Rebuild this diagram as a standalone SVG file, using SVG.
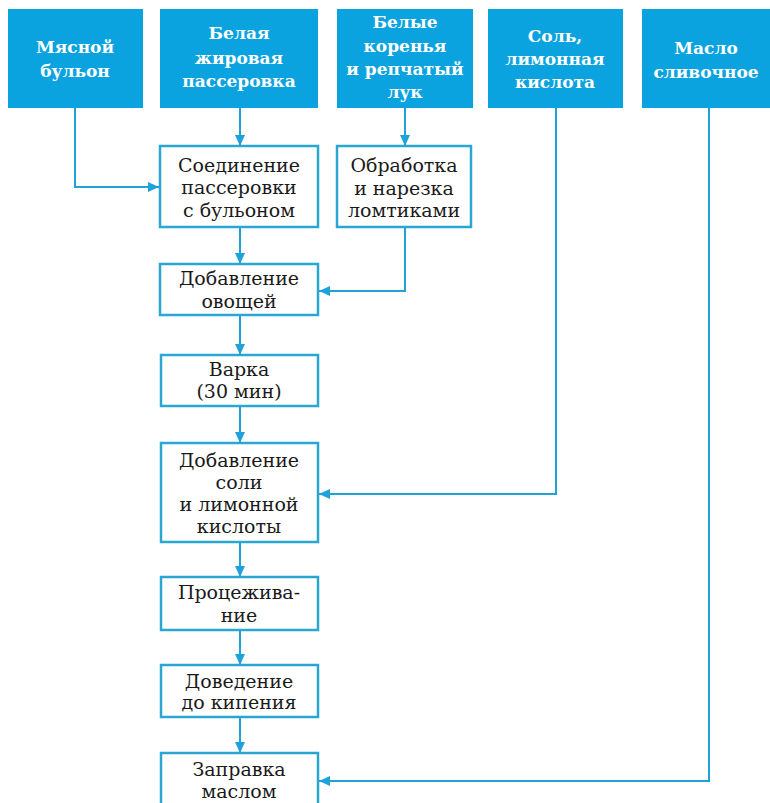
<svg xmlns="http://www.w3.org/2000/svg" width="770" height="803" viewBox="0 0 770 803">
<style>
.hdr{fill:#0ba3df}
.ht{font-family:"DejaVu Serif","Liberation Serif",serif;font-weight:bold;font-size:17px;fill:#ffffff;text-anchor:middle}
.box{fill:#ffffff;stroke:#2aa6d3;stroke-width:2.5}
.bt{font-family:"DejaVu Serif","Liberation Serif",serif;font-size:19px;fill:#1a1a1a;text-anchor:middle}
.con{fill:none;stroke:#1ea2d9;stroke-width:2;marker-end:url(#ah)}
</style>
<defs>
<marker id="ah" markerUnits="userSpaceOnUse" markerWidth="12" markerHeight="10" refX="11" refY="5" orient="auto">
<path d="M0,0 L11,5 L0,10 Z" fill="#1ea2d9"/>
</marker>
</defs>
<rect width="770" height="803" fill="#ffffff"/>
<g id="connectors">
<path class="con" d="M75,108 V187 H159"/>
<path class="con" d="M240,108 V146"/>
<path class="con" d="M405,108 V146"/>
<path class="con" d="M240,227 V264"/>
<path class="con" d="M405,227 V291 H319"/>
<path class="con" d="M240,315 V355"/>
<path class="con" d="M240,406 V443"/>
<path class="con" d="M556,108 V494 H319"/>
<path class="con" d="M240,542 V577"/>
<path class="con" d="M240,630 V665"/>
<path class="con" d="M240,717 V753"/>
<path class="con" d="M709,108 V781 H319"/>
</g>
<g id="n_myasnoy">
<rect class="hdr" x="8" y="9" width="135" height="99"/>
<text class="ht" x="75" y="53">Мясной</text>
<text class="ht" x="75" y="77">бульон</text>
</g>
<g id="n_belaya">
<rect class="hdr" x="160" y="9" width="158" height="99"/>
<text class="ht" x="239" y="39">Белая</text>
<text class="ht" x="239" y="64">жировая</text>
<text class="ht" x="239" y="87">пассеровка</text>
</g>
<g id="n_belye">
<rect class="hdr" x="337" y="9" width="136" height="99"/>
<text class="ht" x="405" y="28">Белые</text>
<text class="ht" x="405" y="52">коренья</text>
<text class="ht" x="405" y="75">и репчатый</text>
<text class="ht" x="405" y="98">лук</text>
</g>
<g id="n_sol">
<rect class="hdr" x="488" y="9" width="135" height="99"/>
<text class="ht" x="555" y="42">Соль,</text>
<text class="ht" x="555" y="65">лимонная</text>
<text class="ht" x="555" y="88">кислота</text>
</g>
<g id="n_maslo">
<rect class="hdr" x="642" y="9" width="135" height="99"/>
<text class="ht" x="706" y="54">Масло</text>
<text class="ht" x="706" y="78">сливочное</text>
</g>
<g id="n_soedinenie">
<rect class="box" x="160" y="146" width="158" height="81"/>
<text class="bt" x="239" y="172">Соединение</text>
<text class="bt" x="239" y="194">пассеровки</text>
<text class="bt" x="239" y="217">с бульоном</text>
</g>
<g id="n_obrabotka">
<rect class="box" x="337" y="146" width="134" height="81"/>
<text class="bt" x="404" y="172">Обработка</text>
<text class="bt" x="404" y="195">и нарезка</text>
<text class="bt" x="404" y="217">ломтиками</text>
</g>
<g id="n_ovoshchi">
<rect class="box" x="160" y="264" width="158" height="51"/>
<text class="bt" x="239" y="285">Добавление</text>
<text class="bt" x="239" y="308">овощей</text>
</g>
<g id="n_varka">
<rect class="box" x="161" y="355" width="157" height="51"/>
<text class="bt" x="239" y="376">Варка</text>
<text class="bt" x="239" y="398">(30 мин)</text>
</g>
<g id="n_sol_add">
<rect class="box" x="161" y="443" width="157" height="99"/>
<text class="bt" x="239" y="467">Добавление</text>
<text class="bt" x="239" y="489">соли</text>
<text class="bt" x="239" y="511">и лимонной</text>
<text class="bt" x="239" y="533">кислоты</text>
</g>
<g id="n_protsezh">
<rect class="box" x="161" y="577" width="157" height="53"/>
<text class="bt" x="239" y="599">Процежива-</text>
<text class="bt" x="239" y="622">ние</text>
</g>
<g id="n_dovedenie">
<rect class="box" x="161" y="665" width="157" height="52"/>
<text class="bt" x="239" y="688">Доведение</text>
<text class="bt" x="239" y="709">до кипения</text>
</g>
<g id="n_zapravka">
<rect class="box" x="161" y="753" width="157" height="60"/>
<text class="bt" x="239" y="776">Заправка</text>
<text class="bt" x="239" y="798">маслом</text>
</g>
</svg>
